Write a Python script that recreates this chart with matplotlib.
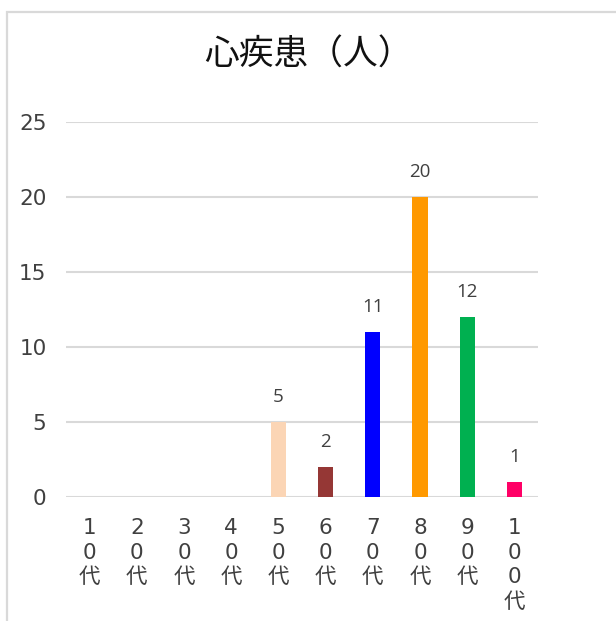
import matplotlib.pyplot as plt
from matplotlib.patches import Rectangle

plt.rcParams['font.family'] = ['Noto Sans CJK JP', 'DejaVu Sans']

ages = ["10代", "20代", "30代", "40代", "50代", "60代", "70代", "80代", "90代", "100代"]
counts = [0, 0, 0, 0, 5, 2, 11, 20, 12, 1]
bar_colors = ["#4472C4", "#ED7D31", "#A5A5A5", "#FFC000", "#FBD5B5",
              "#953735", "#0000FF", "#FF9900", "#00B050", "#FF0066"]
y_ticks = [0, 5, 10, 15, 20, 25]

num_font = ["DejaVu Sans", "Noto Sans CJK JP"]

fig = plt.figure(figsize=(6.16, 6.21), dpi=100)
ax = fig.add_axes([66 / 616, 1 - 497 / 621, 472 / 616, 375 / 621])

# chart frame (light gray border)
fig.patches.append(Rectangle((7 / 616, -0.1), 1.1, 1 - 12 / 621 + 0.1,
                             transform=fig.transFigure, fill=False,
                             edgecolor="#d9d9d9", linewidth=1.6))

x = range(len(ages))
bars = ax.bar(x, counts, width=0.32, color=bar_colors, zorder=3)

for xi, v in zip(x, counts):
    if v > 0:
        ax.annotate(str(v), (xi, v), xytext=(0, 18), textcoords="offset points",
                    ha="center", va="center", fontsize=13.5, color="#404040",
                    family=["Open Sans", "DejaVu Sans"])

ax.set_xlim(-0.5, len(ages) - 0.5)
ax.set_ylim(0, 25)
ax.set_yticks(y_ticks)
ax.set_yticklabels([str(t) for t in y_ticks], fontsize=15.5, color="#404040",
                   family=num_font)
ax.yaxis.grid(True, color="#d9d9d9", linewidth=1.5, zorder=0)
ax.set_xticks(list(x))
ax.set_xticklabels(["\n".join(a) for a in ages], fontsize=15.5, color="#404040",
                   va="top", linespacing=1.3, family=num_font)
ax.tick_params(axis="both", length=0)
ax.tick_params(axis="y", pad=14)
ax.tick_params(axis="x", pad=15)
for s in ax.spines.values():
    s.set_visible(False)

fig.text(308 / 616, 1 - 55 / 621, "心疾患（人）", ha="center", va="center",
         fontsize=25, color="#111111")

fig.savefig("out.png", dpi=100)
